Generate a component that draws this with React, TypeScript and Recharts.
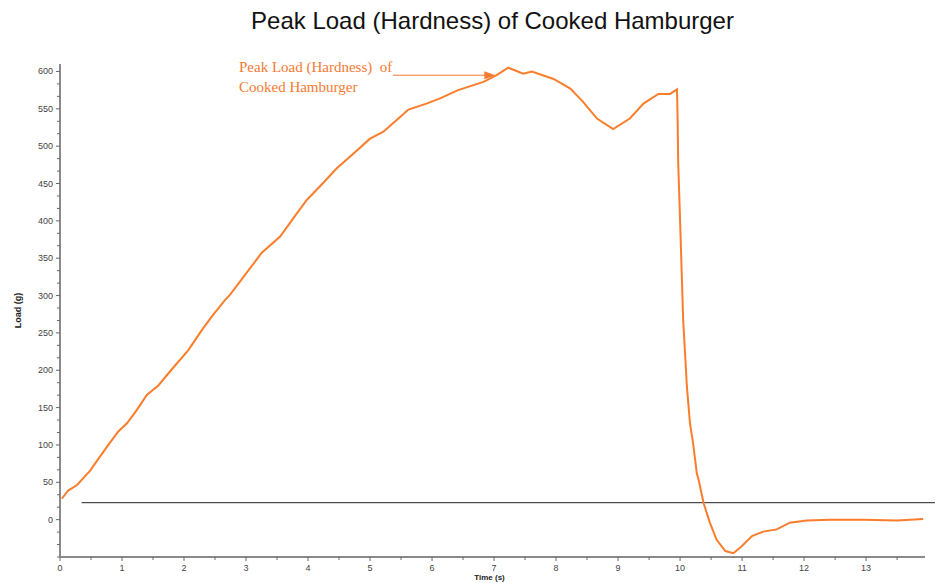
import React from "react";
import {
  LineChart,
  Line,
  XAxis,
  YAxis,
  ReferenceLine,
} from "recharts";

// time (s) readings along the trace
const timeS = [
  0.03, 0.13, 0.27, 0.48, 0.65, 0.78, 0.94, 1.08, 1.24, 1.4, 1.59, 1.77, 2.07,
  2.29, 2.45, 2.66, 2.74, 2.96, 3.25, 3.55, 3.82, 3.98, 4.19, 4.46, 4.73, 5.0,
  5.21, 5.43, 5.62, 5.91, 6.13, 6.42, 6.83, 7.04, 7.23, 7.47, 7.61, 7.96, 8.23,
  8.44, 8.66, 8.92, 9.19, 9.41, 9.65, 9.84, 9.95, 9.96, 9.97, 10.0, 10.03,
  10.05, 10.08, 10.11, 10.16, 10.21, 10.27, 10.3, 10.38, 10.48, 10.59, 10.73,
  10.86, 10.99, 11.16, 11.34, 11.56, 11.77, 12.04, 12.42, 12.96, 13.5, 13.92,
];

// load (g) at each time above
const loadG = [
  28, 39, 46, 65, 85, 100, 118, 129, 147, 167, 180, 198, 227, 254, 272, 294,
  301, 325, 357, 379, 410, 428, 446, 470, 490, 510, 519, 535, 549, 557, 564,
  575, 586, 595, 605, 597, 600, 590, 577, 559, 537, 523, 537, 557, 570, 570,
  576, 539, 477, 401, 321, 267, 223, 178, 129, 102, 62, 53, 22, -4, -27, -42,
  -45, -36, -22, -16, -13, -4, -1, 0, 0, -1, 1,
];

const xMajorTicks = [0, 1, 2, 3, 4, 5, 6, 7, 8, 9, 10, 11, 12, 13];
const yMajorTicks = [0, 50, 100, 150, 200, 250, 300, 350, 400, 450, 500, 550, 600];

const baseline = 22.7; // black reference line
const annotation = ["Peak Load (Hardness)  of", "Cooked Hamburger"];

const data = timeS.map((t, i) => ({ t, load: loadG[i] }));

// minor ticks: half seconds on x, thirds of 50 on y
const xTicks: number[] = [];
xMajorTicks.forEach((v) => {
  xTicks.push(v);
  if (v + 0.5 < 13.95) xTicks.push(v + 0.5);
});
const yTicks: number[] = [-50, -100 / 3, -50 / 3];
yMajorTicks.forEach((v) => {
  yTicks.push(v);
  if (v < 600) yTicks.push(v + 50 / 3, v + 100 / 3);
});

const isMajor = (v: number, step: number) =>
  Math.abs(v / step - Math.round(v / step)) < 1e-6;

const XTick = ({ x, y, payload }: any) => {
  const major = isMajor(payload.value, 1);
  return (
    <g>
      <line x1={x} x2={x} y1={y} y2={y + (major ? 4 : 3)} stroke="#666" />
      {major && (
        <text
          x={x}
          y={y + 14}
          textAnchor="middle"
          fontSize={9}
          fill="#444"
          fontFamily="Liberation Sans, Arial, sans-serif"
        >
          {payload.value}
        </text>
      )}
    </g>
  );
};

const YTick = ({ x, y, payload }: any) => {
  const v = payload.value;
  const major = isMajor(v, 50) && v >= 0;
  return (
    <g>
      <line x1={x - (major ? 4 : 3)} x2={x} y1={y} y2={y} stroke="#666" />
      {major && (
        <text
          x={x - 7}
          y={y + 3}
          textAnchor="end"
          fontSize={9}
          fill="#444"
          fontFamily="Liberation Sans, Arial, sans-serif"
        >
          {Math.round(v)}
        </text>
      )}
    </g>
  );
};

const ArrowNote = (props: any) => {
  const { x1, y1, x2, y2 } = props;
  return (
    <g>
      <line x1={x1} y1={y1} x2={x2 - 8} y2={y2} stroke="#f47a32" strokeWidth={1} />
      <polygon
        points={`${x2},${y2} ${x2 - 11},${y2 - 4} ${x2 - 11},${y2 + 4}`}
        fill="#f47a32"
      />
      <text
        x={x1 - 154}
        y={y1 - 3}
        fontSize={15}
        fill="#f47a32"
        fontFamily="Liberation Serif, Times New Roman, serif"
        style={{ whiteSpace: "pre" }}
      >
        {annotation[0]}
      </text>
      <text
        x={x1 - 154}
        y={y1 + 17}
        fontSize={15}
        fill="#f47a32"
        fontFamily="Liberation Serif, Times New Roman, serif"
      >
        {annotation[1]}
      </text>
    </g>
  );
};

export default function App() {
  return (
    <div style={{ position: "absolute", left: 0, top: 0, width: 938, height: 583, background: "#fff" }}>
      <div
        style={{
          position: "absolute",
          left: 60,
          top: 7,
          width: 865,
          textAlign: "center",
          fontFamily: "Liberation Sans, Arial, sans-serif",
          fontSize: 24,
          lineHeight: "28px",
          color: "#111",
        }}
      >
        Peak Load (Hardness) of Cooked Hamburger
      </div>
      <LineChart
        width={938}
        height={583}
        data={data}
        margin={{ top: 64, right: 13, bottom: 0, left: 0 }}
      >
        <XAxis
          dataKey="t"
          type="number"
          domain={[0, 13.95]}
          ticks={xTicks}
          interval={0}
          tick={<XTick />}
          tickLine={false}
          tickSize={0}
          tickMargin={0}
          height={26}
          axisLine={{ stroke: "#8a8a8a", strokeWidth: 2 }}
          allowDataOverflow
          label={({ viewBox }: any) => (
            <text
              x={viewBox.x + viewBox.width / 2 - 3}
              y={viewBox.y + 23}
              textAnchor="middle"
              fontSize={8}
              fontWeight="bold"
              fill="#222"
              fontFamily="Liberation Sans, Arial, sans-serif"
            >
              Time (s)
            </text>
          )}
        />
        <YAxis
          type="number"
          domain={[-50, 610]}
          ticks={yTicks}
          interval={0}
          tick={<YTick />}
          tickLine={false}
          tickSize={0}
          tickMargin={0}
          width={60}
          axisLine={{ stroke: "#8a8a8a", strokeWidth: 2 }}
          allowDataOverflow
          label={({ viewBox }: any) => {
            const cx = 18;
            const cy = viewBox.y + viewBox.height / 2;
            return (
              <text
                x={cx}
                y={cy}
                transform={`rotate(-90 ${cx} ${cy})`}
                textAnchor="middle"
                dominantBaseline="central"
                fontSize={9}
                fontWeight="bold"
                fill="#222"
                fontFamily="Liberation Sans, Arial, sans-serif"
              >
                Load (g)
              </text>
            );
          }}
        />
        <ReferenceLine
          segment={[
            { x: 0.35, y: baseline },
            { x: 14.11, y: baseline },
          ]}
          stroke="#222"
          strokeWidth={1}
          ifOverflow="visible"
        />
        <Line
          type="linear"
          dataKey="load"
          stroke="#fb7d2c"
          strokeWidth={2}
          dot={false}
          isAnimationActive={false}
        />
        <ReferenceLine
          segment={[
            { x: 5.37, y: 595 },
            { x: 7.02, y: 595 },
          ]}
          ifOverflow="visible"
          shape={ArrowNote}
        />
      </LineChart>
    </div>
  );
}
